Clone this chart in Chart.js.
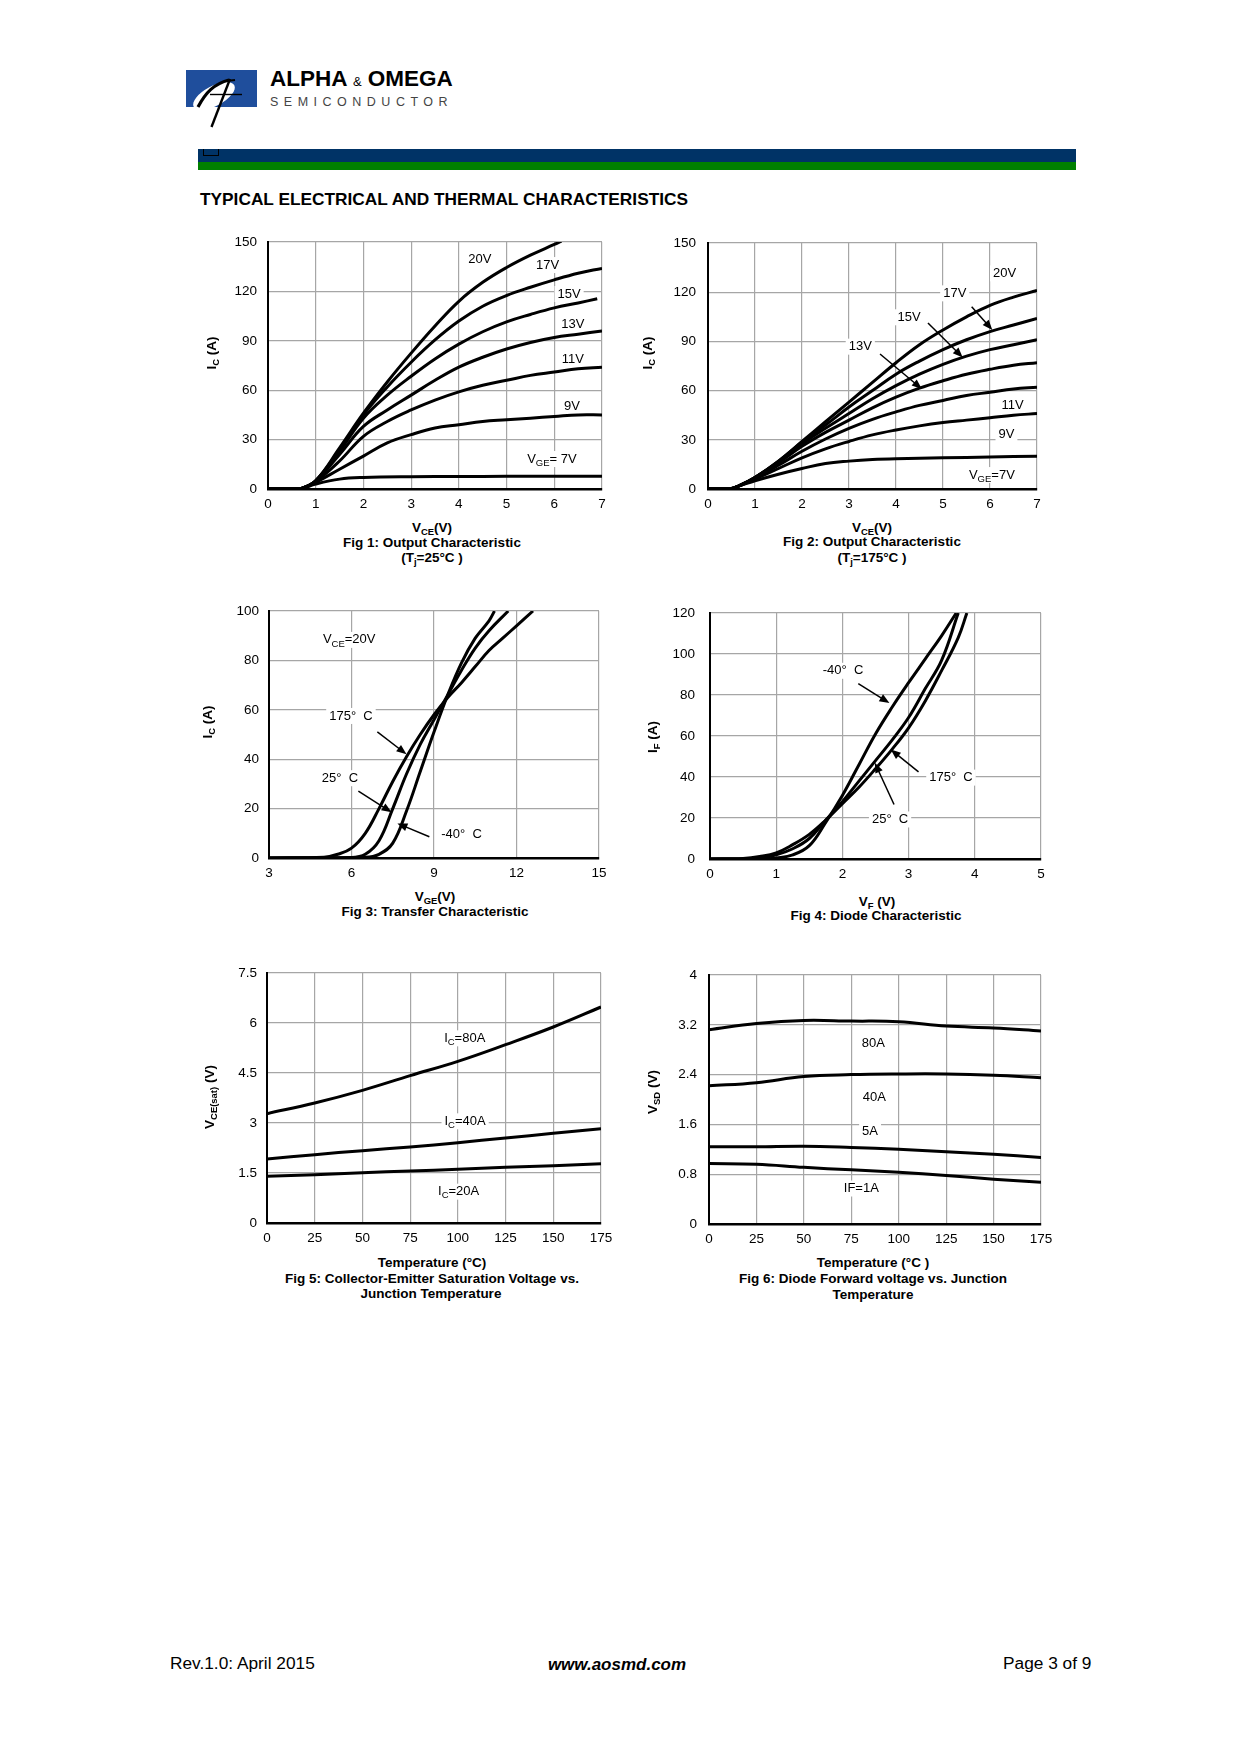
<!DOCTYPE html>
<html>
<head>
<meta charset="utf-8">
<title>Typical Electrical and Thermal Characteristics</title>
<script src="https://cdn.jsdelivr.net/npm/chart.js@4.4.1/dist/chart.umd.min.js"></script>
<style>
  body { margin: 0; background: #fff; }
  #page { position: relative; width: 1240px; height: 1754px; overflow: hidden;
          font-family: 'Liberation Sans', Arial, sans-serif; color: #000; }
  .t { position: absolute; transform: translate(-50%, -50%); white-space: nowrap; line-height: 1; }
  .l { position: absolute; transform: translate(0, -50%); white-space: nowrap; line-height: 1; }
  .rot { transform: translate(-50%, -50%) rotate(-90deg); }
  .cap { font-weight: bold; font-size: 13.5px; }
  .ax { font-weight: bold; font-size: 13.5px; }
  sub { font-size: 70%; vertical-align: -0.3em; line-height: 0; }
  canvas { position: absolute; }
</style>
</head>
<body>
<div id="page">
  <!-- header -->
  <svg style="position:absolute;left:180px;top:64px" width="80" height="68" viewBox="180 64 80 68">
    <rect x="186" y="70" width="71" height="37" fill="#1f4e9c"/>
    <ellipse cx="214" cy="96" rx="23" ry="10" transform="rotate(-28 214 96)" fill="#fff"/>
    <path d="M198 107 C 206 92, 214 84, 229 80" stroke="#000" stroke-width="3.2" fill="none"/>
    <path d="M230 79 L 211.5 127" stroke="#000" stroke-width="2.4" fill="none"/>
    <path d="M226 81 L 235 80" stroke="#000" stroke-width="2" fill="none"/>
    <path d="M210 94.5 L 242 94.5" stroke="#000" stroke-width="1.4" fill="none"/>
  </svg>
  <div class="l" style="left:270px;top:79px;font-weight:bold;font-size:22.5px;">ALPHA <span style="font-size:13px;font-weight:normal">&amp;</span> OMEGA</div>
  <div class="l" style="left:270px;top:102px;font-size:12.5px;letter-spacing:5.5px;color:#444;">SEMICONDUCTOR</div>
  <div style="position:absolute;left:198px;top:149px;width:878px;height:13px;background:#003366;"></div>
  <div style="position:absolute;left:198px;top:162px;width:878px;height:8px;background:#008000;"></div>
  <div style="position:absolute;left:203px;top:149px;width:14px;height:6px;border:1px solid #000;border-top:none;"></div>
  <div class="l" style="left:200px;top:200px;font-weight:bold;font-size:17.3px;">TYPICAL ELECTRICAL AND THERMAL CHARACTERISTICS</div>

  <canvas id="fig1"></canvas>
  <canvas id="fig2"></canvas>
  <canvas id="fig3"></canvas>
  <canvas id="fig4"></canvas>
  <canvas id="fig5"></canvas>
  <canvas id="fig6"></canvas>

  <!-- axis titles and captions -->
  <div class="t rot ax" style="left:212px;top:353px;">I<sub>C</sub> (A)</div>
  <div class="t ax" style="left:432px;top:528px;">V<sub>CE</sub>(V)</div>
  <div class="t cap" style="left:432px;top:543px;">Fig 1: Output Characteristic</div>
  <div class="t cap" style="left:432px;top:558px;">(T<sub>j</sub>=25°C )</div>

  <div class="t rot ax" style="left:648px;top:353px;">I<sub>C</sub> (A)</div>
  <div class="t ax" style="left:872px;top:528px;">V<sub>CE</sub>(V)</div>
  <div class="t cap" style="left:872px;top:542px;">Fig 2: Output Characteristic</div>
  <div class="t cap" style="left:872px;top:558px;">(T<sub>j</sub>=175°C )</div>

  <div class="t rot ax" style="left:208px;top:722px;">I<sub>C</sub> (A)</div>
  <div class="t ax" style="left:435px;top:897px;">V<sub>GE</sub>(V)</div>
  <div class="t cap" style="left:435px;top:912px;">Fig 3: Transfer Characteristic</div>

  <div class="t rot ax" style="left:653px;top:737px;">I<sub>F</sub> (A)</div>
  <div class="t ax" style="left:877px;top:902px;">V<sub>F</sub> (V)</div>
  <div class="t cap" style="left:876px;top:916px;">Fig 4: Diode Characteristic</div>

  <div class="t rot ax" style="left:210px;top:1097px;">V<sub>CE(sat)</sub> (V)</div>
  <div class="t ax" style="left:432px;top:1263px;">Temperature (°C)</div>
  <div class="t cap" style="left:432px;top:1279px;">Fig 5: Collector-Emitter Saturation Voltage vs.</div>
  <div class="t cap" style="left:431px;top:1294px;">Junction Temperature</div>

  <div class="t rot ax" style="left:653px;top:1092px;">V<sub>SD</sub> (V)</div>
  <div class="t ax" style="left:873px;top:1263px;">Temperature (°C )</div>
  <div class="t cap" style="left:873px;top:1279px;">Fig 6: Diode Forward voltage vs. Junction</div>
  <div class="t cap" style="left:873px;top:1295px;">Temperature</div>

  <!-- footer -->
  <div class="l" style="left:170px;top:1664px;font-size:17.3px;">Rev.1.0: April 2015</div>
  <div class="t" style="left:617px;top:1664px;font-size:17px;font-weight:bold;font-style:italic;">www.aosmd.com</div>
  <div class="l" style="left:1003px;top:1664px;font-size:17.3px;">Page 3 of 9</div>
</div>

<script>
// FIG 1 - output characteristic, Tj = 25C  ([Vce, Ic] pairs)
const fig1XTicks = [0, 1, 2, 3, 4, 5, 6, 7];
const fig1YTicks = [0, 30, 60, 90, 120, 150];
const fig1_20V = [[0,0],[0.5,0],[0.7,0.3],[1,5],[1.5,25],[2,46],[2.5,65],[3,82.5],[3.5,99],[4,114],[4.5,125.5],[5,134.5],[5.5,142],[6,148.5],[6.15,150.5]];
const fig1_17V = [[0,0],[0.5,0],[0.7,0.3],[1,5],[1.5,24],[2,45],[2.5,62],[3,77],[3.5,90.5],[4,102],[4.5,111],[5,117.5],[5.5,122.5],[6,127],[6.5,131],[7,134]];
const fig1_15V = [[0,0],[0.5,0],[0.7,0.3],[1,5],[1.5,23],[2,43],[2.5,57],[3,68.5],[3.5,79],[4,88],[4.5,95.5],[5,101.5],[5.5,106],[6,110],[6.5,113],[6.9,115.5]];
const fig1_13V = [[0,0],[0.5,0],[0.7,0.3],[1,5],[1.5,21],[2,38],[2.5,48],[3,57],[3.5,66],[4,74],[4.5,80],[5,85],[5.5,89],[6,92],[6.5,94],[7,96]];
const fig1_11V = [[0,0],[0.5,0],[0.7,0.3],[1,4.5],[1.5,17],[2,32],[2.5,41],[3,48],[3.5,54],[4,59],[4.5,63],[5,66],[5.5,69],[6,71],[6.5,73],[7,74]];
const fig1_9V  = [[0,0],[0.5,0],[0.7,0.3],[1,4],[1.5,12],[2,20],[2.5,28],[3,33],[3.5,37],[4,39],[4.5,41],[5,42],[5.5,43],[6,44],[6.5,45],[7,45]];
const fig1_7V  = [[0,0],[0.5,0],[0.7,0.2],[1,3],[1.5,6],[2,7],[3,7.5],[4,7.6],[5,7.7],[6,7.8],[7,7.8]];

// FIG 2 - output characteristic, Tj = 175C
const fig2XTicks = [0, 1, 2, 3, 4, 5, 6, 7];
const fig2YTicks = [0, 30, 60, 90, 120, 150];
const fig2_20V = [[0,0],[0.45,0],[0.7,2.5],[1,7],[1.5,17],[2,29],[2.5,41],[3,53],[3.5,65],[4,77],[4.5,88],[5,97],[5.5,105],[6,112],[6.5,117],[7,121]];
const fig2_17V = [[0,0],[0.45,0],[0.7,2.5],[1,7],[1.5,17],[2,28.5],[2.5,39],[3,50],[3.5,60],[4,70],[4.5,78],[5,85],[5.5,91],[6,96],[6.5,100],[7,104]];
const fig2_15V = [[0,0],[0.45,0],[0.7,2.5],[1,7],[1.5,16.5],[2,27.5],[2.5,37],[3,46],[3.5,55],[4,63],[4.5,70],[5,76],[5.5,81],[6,85],[6.5,88],[7,91]];
const fig2_13V = [[0,0],[0.45,0],[0.7,2.5],[1,7],[1.5,16],[2,26],[2.5,34.5],[3,42],[3.5,49.5],[4,56],[4.5,61.5],[5,66],[5.5,70],[6,73],[6.5,75.5],[7,77]];
const fig2_11V = [[0,0],[0.45,0],[0.7,2.4],[1,6.5],[1.5,14.5],[2,23],[2.5,30.5],[3,37],[3.5,42.5],[4,47],[4.5,51],[5,54],[5.5,57],[6,59],[6.5,61],[7,62]];
const fig2_9V  = [[0,0],[0.45,0],[0.7,2.3],[1,6],[1.5,12.5],[2,19],[2.5,24.5],[3,29],[3.5,33],[4,36],[4.5,38.5],[5,40.5],[5.5,42],[6,43.5],[6.5,45],[7,46]];
const fig2_7V  = [[0,0],[0.45,0],[0.7,2.2],[1,5],[1.5,9],[2,12.5],[2.5,15.5],[3,17],[3.5,18],[4,18.5],[5,19],[6,19.5],[7,20]];

// FIG 3 - transfer characteristic, Vce = 20V  ([Vge, Ic] pairs)
const fig3XTicks = [3, 6, 9, 12, 15];
const fig3YTicks = [0, 20, 40, 60, 80, 100];
const fig3_175C = [[3,0],[5,0.3],[5.5,1.5],[6,4],[6.5,10],[7,20],[7.5,31],[8,41],[8.5,50],[9,58],[9.5,65],[10,71],[10.5,77.5],[11,84],[11.5,89],[12,94],[12.6,100]];
const fig3_25C  = [[3,0],[6,0.2],[6.5,1.5],[7,7],[7.5,20],[8,34],[8.5,46],[9,56],[9.5,66],[10,76],[10.5,85],[11,92],[11.7,100]];
const fig3_m40C = [[3,0],[6.5,0.3],[7,1.5],[7.5,6],[8,19],[8.5,35],[9,51],[9.5,66],[10,79],[10.5,89],[11,96],[11.2,100]];

// FIG 4 - diode characteristic  ([Vf, If] pairs)
const fig4XTicks = [0, 1, 2, 3, 4, 5];
const fig4YTicks = [0, 20, 40, 60, 80, 100, 120];
const fig4_m40C = [[0,0],[0.8,0],[1,0.5],[1.25,2],[1.5,6.5],[1.75,18],[2,31],[2.25,46],[2.5,61],[2.75,74],[3,86],[3.25,97.5],[3.5,109],[3.72,120]];
const fig4_25C  = [[0,0],[0.5,0],[0.75,0.3],[1,2],[1.25,5],[1.5,10],[1.75,19],[2,28],[2.25,38],[2.5,48],[2.75,58],[3,69],[3.25,83],[3.5,97],[3.75,120]];
const fig4_175C = [[0,0],[0.5,0.3],[0.75,1.2],[1,3],[1.25,7],[1.5,12],[1.75,19],[2,27],[2.25,35],[2.5,44],[2.75,53.5],[3,64],[3.25,77],[3.5,92],[3.75,108],[3.88,120]];

// FIG 5 - Vce(sat) vs junction temperature
const tempC = [0, 25, 50, 75, 100, 125, 150, 175];
const fig5YTicks = [0, 1.5, 3, 4.5, 6, 7.5];
const fig5_80A = [3.28, 3.6, 3.98, 4.42, 4.85, 5.35, 5.88, 6.48];
const fig5_40A = [1.92, 2.05, 2.17, 2.28, 2.41, 2.55, 2.69, 2.83];
const fig5_20A = [1.40, 1.45, 1.51, 1.56, 1.61, 1.67, 1.72, 1.78];

// FIG 6 - diode forward voltage vs junction temperature
const fig6YTicks = [0, 0.8, 1.6, 2.4, 3.2, 4];
const fig6_80A = [3.12, 3.22, 3.27, 3.26, 3.25, 3.18, 3.15, 3.10];
const fig6_40A = [2.22, 2.27, 2.37, 2.40, 2.41, 2.41, 2.39, 2.35];
const fig6_5A  = [1.24, 1.24, 1.25, 1.23, 1.20, 1.16, 1.12, 1.07];
const fig6_1A  = [0.97, 0.96, 0.91, 0.87, 0.83, 0.78, 0.72, 0.67];

document.addEventListener("DOMContentLoaded", function () {

    const FONT = "'Liberation Sans', Arial, sans-serif";
    Chart.defaults.font.family = FONT;
    Chart.defaults.color = '#000';

    // plot areas on the page (left, top, right, bottom)
    const boxes = {
        fig1: { l: 268, t: 242, r: 602, b: 489, pad: 11 },
        fig2: { l: 708, t: 243, r: 1037, b: 489, pad: 12 },
        fig3: { l: 269, t: 611, r: 599, b: 858, pad: 10 },
        fig4: { l: 710, t: 613, r: 1041, b: 859, pad: 15 },
        fig5: { l: 267, t: 973, r: 601, b: 1223, pad: 10 },
        fig6: { l: 709, t: 975, r: 1041, b: 1224, pad: 12 }
    };
    const PAD_TOP = 32;

    // "V_{GE}=7V" -> text parts with subscripts
    function parseRich(s) {
        const out = [];
        const re = /_\{([^}]*)\}/g;
        let last = 0, m;
        while ((m = re.exec(s))) {
            if (m.index > last) out.push({ t: s.slice(last, m.index) });
            out.push({ t: m[1], sub: true });
            last = re.lastIndex;
        }
        if (last < s.length) out.push({ t: s.slice(last) });
        return out;
    }

    // curve labels (white box, under the curves) and arrows
    const notesPlugin = {
        id: 'notes',
        beforeDatasetsDraw(chart, args, opts) {
            const ctx = chart.ctx, xs = chart.scales.x, ys = chart.scales.y;
            (opts.labels || []).forEach(function (l) {
                const parts = parseRich(l.text);
                ctx.save();
                let w = 0;
                parts.forEach(function (p) {
                    ctx.font = (p.sub ? '9.5px ' : '13px ') + FONT;
                    p.w = ctx.measureText(p.t).width;
                    w += p.w;
                });
                const px = xs.getPixelForValue(l.x), py = ys.getPixelForValue(l.y);
                let left = l.align === 'left' ? px : px - w / 2;
                ctx.fillStyle = '#fff';
                ctx.fillRect(left - 3, py - 8, w + 6, 16);
                ctx.fillStyle = '#000';
                ctx.textAlign = 'left';
                ctx.textBaseline = 'middle';
                parts.forEach(function (p) {
                    ctx.font = (p.sub ? '9.5px ' : '13px ') + FONT;
                    ctx.fillText(p.t, left, p.sub ? py + 4 : py);
                    left += p.w;
                });
                ctx.restore();
            });
        },
        afterDatasetsDraw(chart, args, opts) {
            const ctx = chart.ctx, xs = chart.scales.x, ys = chart.scales.y;
            (opts.arrows || []).forEach(function (a) {
                const x1 = xs.getPixelForValue(a[0]), y1 = ys.getPixelForValue(a[1]);
                const x2 = xs.getPixelForValue(a[2]), y2 = ys.getPixelForValue(a[3]);
                const ang = Math.atan2(y2 - y1, x2 - x1), c = Math.cos(ang), s = Math.sin(ang);
                ctx.save();
                ctx.strokeStyle = '#000';
                ctx.fillStyle = '#000';
                ctx.lineWidth = 1.5;
                ctx.beginPath();
                ctx.moveTo(x1, y1);
                ctx.lineTo(x2 - 7 * c, y2 - 7 * s);
                ctx.stroke();
                ctx.beginPath();
                ctx.moveTo(x2, y2);
                ctx.lineTo(x2 - 10 * c + 4 * s, y2 - 10 * s - 4 * c);
                ctx.lineTo(x2 - 10 * c - 4 * s, y2 - 10 * s + 4 * c);
                ctx.closePath();
                ctx.fill();
                ctx.restore();
            });
        }
    };

    function pairs(arr) { return arr.map(p => ({ x: p[0], y: p[1] })); }
    function byTemp(vals) { return vals.map((v, i) => ({ x: tempC[i], y: v })); }

    function curve(points) {
        return {
            data: points,
            borderColor: '#000',
            borderWidth: 3,
            pointRadius: 0,
            fill: false,
            tension: 0.4
        };
    }

    function axis(ticks, pad, isX) {
        return {
            type: 'linear',
            min: ticks[0],
            max: ticks[ticks.length - 1],
            afterBuildTicks: s => { s.ticks = ticks.map(v => ({ value: v })); },
            afterFit: s => { if (isX) s.height = 30; else s.width = 60; },
            grid: { color: '#a6a6a6', lineWidth: 1.2, drawTicks: false },
            border: { color: '#000', width: isX ? 2.5 : 2 },
            ticks: { padding: pad, color: '#000', font: { size: 13.5 }, callback: v => String(v) }
        };
    }

    function makeChart(id, xTicks, yTicks, datasets, notes) {
        const box = boxes[id];
        const cv = document.getElementById(id);
        cv.width = box.r - box.l + 80;
        cv.height = box.b - box.t + PAD_TOP + 30;
        cv.style.left = (box.l - 60) + 'px';
        cv.style.top = (box.t - PAD_TOP) + 'px';
        return new Chart(cv, {
            type: 'line',
            data: { datasets: datasets },
            plugins: [notesPlugin],
            options: {
                responsive: false,
                animation: false,
                events: [],
                layout: { padding: { left: 0, top: PAD_TOP, right: 20, bottom: 0 } },
                scales: { x: axis(xTicks, 7, true), y: axis(yTicks, box.pad, false) },
                plugins: { legend: { display: false }, tooltip: { enabled: false }, notes: notes }
            }
        });
    }

    // FIG 1
    makeChart('fig1', fig1XTicks, fig1YTicks,
        [fig1_20V, fig1_17V, fig1_15V, fig1_13V, fig1_11V, fig1_9V, fig1_7V].map(a => curve(pairs(a))),
        {
            labels: [
                { x: 4.44, y: 139.6, text: '20V' },
                { x: 5.86, y: 136, text: '17V' },
                { x: 6.31, y: 118.4, text: '15V' },
                { x: 6.39, y: 100.2, text: '13V' },
                { x: 6.39, y: 78.9, text: '11V' },
                { x: 6.37, y: 50.4, text: '9V' },
                { x: 5.95, y: 18.2, text: 'V_{GE}= 7V' }
            ]
        });

    // FIG 2
    makeChart('fig2', fig2XTicks, fig2YTicks,
        [fig2_20V, fig2_17V, fig2_15V, fig2_13V, fig2_11V, fig2_9V, fig2_7V].map(a => curve(pairs(a))),
        {
            labels: [
                { x: 6.31, y: 131.5, text: '20V' },
                { x: 5.25, y: 119.3, text: '17V' },
                { x: 4.28, y: 104.7, text: '15V' },
                { x: 3.24, y: 86.8, text: '13V' },
                { x: 6.48, y: 50.7, text: '11V' },
                { x: 6.35, y: 33.3, text: '9V' },
                { x: 6.04, y: 8.5, text: 'V_{GE}=7V' }
            ],
            arrows: [
                [5.61, 111.2, 6.05, 97],
                [4.68, 101.2, 5.42, 80.2],
                [3.66, 82.3, 4.55, 61]
            ]
        });

    // FIG 3
    makeChart('fig3', fig3XTicks, fig3YTicks,
        [fig3_175C, fig3_25C, fig3_m40C].map(a => curve(pairs(a))),
        {
            labels: [
                { x: 4.96, y: 88.3, text: 'V_{CE}=20V', align: 'left' },
                { x: 5.98, y: 57.5, text: '175°  C' },
                { x: 5.58, y: 32.3, text: '25°  C' },
                { x: 10.0, y: 9.7, text: '-40°  C' }
            ],
            arrows: [
                [6.94, 51.1, 8.0, 42],
                [6.25, 27.1, 7.46, 18.5],
                [8.83, 8.6, 7.67, 14]
            ]
        });

    // FIG 4
    makeChart('fig4', fig4XTicks, fig4YTicks,
        [fig4_m40C, fig4_25C, fig4_175C].map(a => curve(pairs(a))),
        {
            labels: [
                { x: 2.01, y: 91.8, text: '-40°  C' },
                { x: 3.64, y: 39.7, text: '175°  C' },
                { x: 2.72, y: 19.3, text: '25°  C' }
            ],
            arrows: [
                [2.24, 85.5, 2.71, 76.1],
                [3.15, 42.5, 2.73, 53.4],
                [2.78, 26.6, 2.49, 46.9]
            ]
        });

    // FIG 5
    makeChart('fig5', tempC, fig5YTicks,
        [fig5_80A, fig5_40A, fig5_20A].map(a => curve(byTemp(a))),
        {
            labels: [
                { x: 103.6, y: 5.54, text: 'I_{C}=80A' },
                { x: 103.8, y: 3.05, text: 'I_{C}=40A' },
                { x: 100.4, y: 0.94, text: 'I_{C}=20A' }
            ]
        });

    // FIG 6
    makeChart('fig6', tempC, fig6YTicks,
        [fig6_80A, fig6_40A, fig6_5A, fig6_1A].map(a => curve(byTemp(a))),
        {
            labels: [
                { x: 86.6, y: 2.90, text: '80A' },
                { x: 87.1, y: 2.04, text: '40A' },
                { x: 84.9, y: 1.49, text: '5A' },
                { x: 80.3, y: 0.57, text: 'IF=1A' }
            ]
        });

});
</script>
</body>
</html>
